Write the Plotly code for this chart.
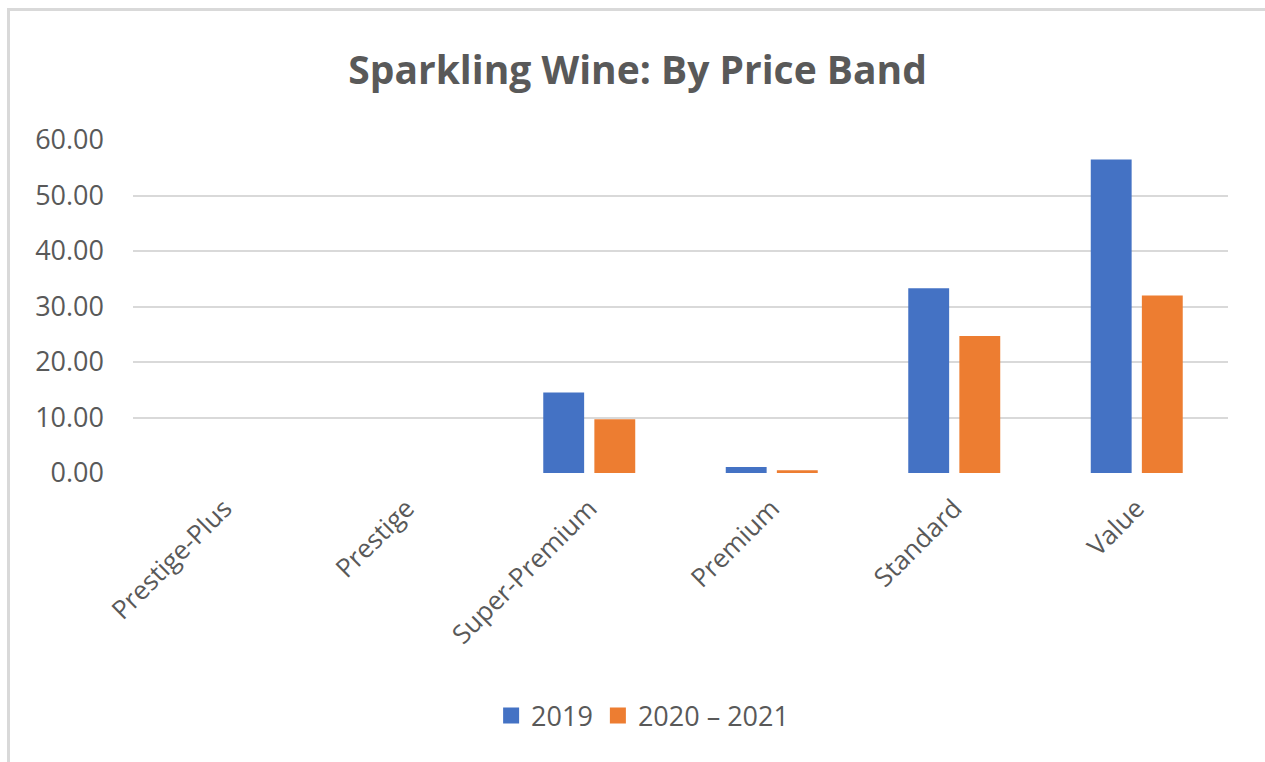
import plotly.graph_objects as go

categories = ["Prestige-Plus", "Prestige", "Super-Premium", "Premium", "Standard", "Value"]
series_names = ["2019", "2020 – 2021"]
values_2019 = [0.0, 0.0, 14.5, 1.1, 33.3, 56.5]
values_2020_2021 = [0.0, 0.0, 9.7, 0.5, 24.7, 32.0]
colors = ["#4472C4", "#ED7D31"]
y_ticks = [0, 10, 20, 30, 40, 50, 60]

W, H = 1265, 762
ML, MR, MT, MB = 133, 37, 140, 289
pw, ph = W - ML - MR, H - MT - MB

fig = go.Figure()
for name, vals, col in zip(series_names, [values_2019, values_2020_2021], colors):
    fig.add_trace(go.Bar(x=categories, y=vals, name=name, showlegend=False,
                         legendgroup=name, marker=dict(color=col, line=dict(width=0))))
# legend entries with larger square swatches
for name, col in zip(series_names, colors):
    fig.add_trace(go.Scatter(x=[None], y=[None], mode="markers", name=name, legendgroup=name,
                             marker=dict(symbol="square", size=16, color=col)))

font_family = "Open Sans, Noto Sans, sans-serif"
grey = "#595959"

def px_x(x):
    return (x - ML) / pw

def px_y(y):
    return (H - MB - y) / ph

fig.update_layout(
    width=W, height=H,
    margin=dict(l=ML, r=MR, t=MT, b=MB),
    paper_bgcolor="white", plot_bgcolor="white",
    barmode="group", bargap=0.44, bargroupgap=0.2,
    title=dict(text="<b>Sparkling Wine: By Price Band</b>", x=0.504, xanchor="center",
               y=1 - 70 / H, yanchor="middle",
               font=dict(family=font_family, size=39, color=grey)),
    font=dict(family=font_family, color=grey),
    showlegend=True,
    legend=dict(orientation="h", xref="container", yref="container",
                x=0.508, xanchor="center", y=1 - 716 / H, yanchor="middle",
                font=dict(size=27, color=grey), itemsizing="trace",
                traceorder="normal"),
    xaxis=dict(tickangle=-45, tickfont=dict(size=26, color=grey), showgrid=False,
               showline=False, zeroline=False, ticks="", ticklabelstandoff=14),
    yaxis=dict(range=[0, 60], tickvals=y_ticks, tickformat=".2f",
               tickfont=dict(size=27, color=grey), showgrid=True, gridcolor="#d9d9d9",
               gridwidth=2, zeroline=False, showline=False, ticks="", ticklabelstandoff=28),
    shapes=[
        dict(type="line", xref="paper", yref="paper", x0=px_x(7), x1=px_x(1265),
             y0=px_y(9.5), y1=px_y(9.5), line=dict(color="#d9d9d9", width=3)),
        dict(type="line", xref="paper", yref="paper", x0=px_x(8.5), x1=px_x(8.5),
             y0=px_y(8), y1=px_y(762), line=dict(color="#d9d9d9", width=3)),
    ],
)

fig.write_html("out.html")
